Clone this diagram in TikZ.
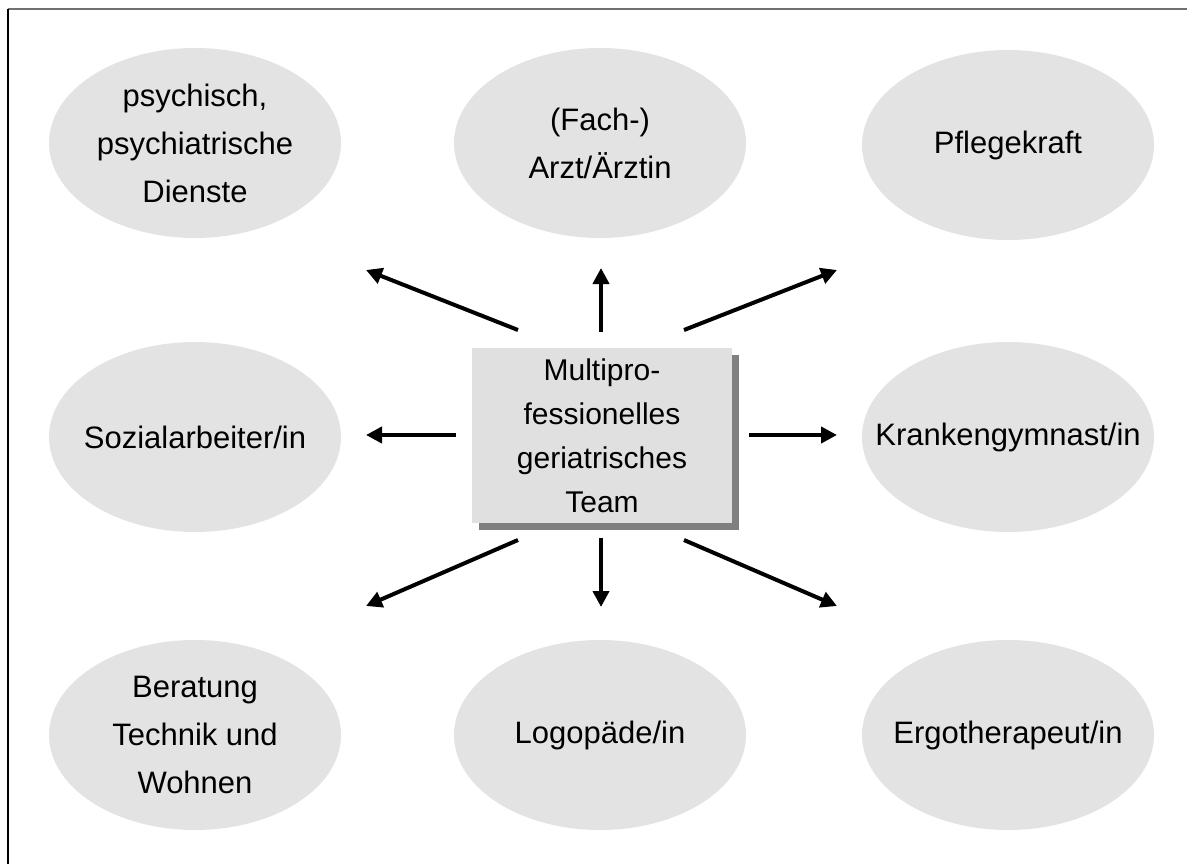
\documentclass[tikz,border=0pt]{standalone}
\usepackage{fontspec}
\setmainfont{Liberation Sans}
\usetikzlibrary{shapes.geometric,arrows.meta,shadows}
\definecolor{bubblegray}{HTML}{E3E3E3}
\definecolor{boxgray}{HTML}{E0E0E0}
\definecolor{shadowgray}{HTML}{808080}
\definecolor{framegray}{HTML}{707070}
\begin{document}
\begin{tikzpicture}[x=1pt,y=-1pt,
  bubble/.style={ellipse, fill=bubblegray, minimum width=292pt, minimum height=190pt, inner xsep=-60pt, inner ysep=-30pt, align=center, font=\fontsize{31}{48}\selectfont},
  teambox/.style={rectangle, fill=boxgray, minimum width=260pt, minimum height=175pt, inner sep=0pt, align=center, font=\fontsize{30}{44}\selectfont, drop shadow={shadow xshift=7pt, shadow yshift=-7pt, fill=shadowgray, opacity=1}},
  arr/.style={line width=4pt, -{Triangle[length=16pt,width=16pt]}}]
\useasboundingbox (0,0) rectangle (1187,864);
% frame
\draw[framegray, line width=2pt] (8,9) -- (1187,9);
\draw[black, line width=1.5pt] (8,9) -- (8,864);
% bubbles
\node[bubble] (psy) at (195,143) {psychisch,\\psychiatrische\\Dienste};
\node[bubble] (arzt) at (600,143) {(Fach-)\\Arzt/Ärztin};
\node[bubble] (pflege) at (1008,145) {Pflegekraft};
\node[bubble] (sozial) at (195,437) {Sozialarbeiter/in};
\node[bubble] (kg) at (1008,437) {Krankengymnast/in};
\node[bubble] (berat) at (195,735) {Beratung\\Technik und\\Wohnen};
\node[bubble] (logo) at (600,735) {Logopäde/in};
\node[bubble] (ergo) at (1008,735) {Ergotherapeut/in};
% central box
\node[teambox] (team) at (602,435.5) {Multipro-\\fessionelles\\geriatrisches\\Team};
% arrow coordinates
\coordinate (s1) at (518,330); \coordinate (e1) at (366,270);
\coordinate (s2) at (601,332); \coordinate (e2) at (601,268);
\coordinate (s3) at (684,330); \coordinate (e3) at (837,270);
\coordinate (s4) at (456,435); \coordinate (e4) at (366,435);
\coordinate (s5) at (749,435); \coordinate (e5) at (837,435);
\coordinate (s6) at (518,540); \coordinate (e6) at (366,606);
\coordinate (s7) at (601,538); \coordinate (e7) at (601,607);
\coordinate (s8) at (684,540); \coordinate (e8) at (837,606);
\foreach \i in {1,...,8} {\draw[arr] (s\i) -- (e\i);}
\end{tikzpicture}
\end{document}
